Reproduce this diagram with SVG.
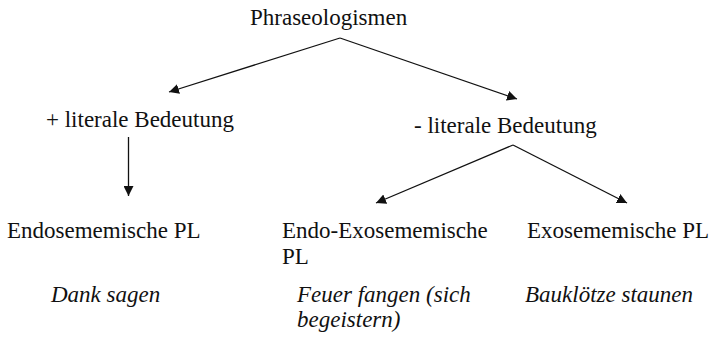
<svg xmlns="http://www.w3.org/2000/svg" width="709" height="355" viewBox="0 0 709 355">
<style>
text{font-family:"Liberation Serif",Tinos,"Noto Serif","DejaVu Serif",Times,serif;font-size:23px;fill:#111}
.it{font-style:italic}
.c{stroke:#111;stroke-width:1.3;fill:none}
</style>
<defs>
<marker id="ah" viewBox="0 0 10 10" refX="10" refY="5" markerWidth="10" markerHeight="10" markerUnits="userSpaceOnUse" orient="auto">
<path d="M0,0 L10,5 L0,10 z" fill="#111"/>
</marker>
</defs>
<rect width="709" height="355" fill="#fff"/>
<g id="connectors">
<line class="c" x1="340" y1="38" x2="169" y2="92" marker-end="url(#ah)"/>
<line class="c" x1="340" y1="38" x2="517" y2="99" marker-end="url(#ah)"/>
<line class="c" x1="128.5" y1="137" x2="128.5" y2="196" marker-end="url(#ah)"/>
<line class="c" x1="513" y1="145" x2="376" y2="203" marker-end="url(#ah)"/>
<line class="c" x1="513" y1="145" x2="627" y2="203" marker-end="url(#ah)"/>
</g>
<g id="root"><text x="250" y="25">Phraseologismen</text></g>
<g id="plus"><text x="46" y="127">+ literale Bedeutung</text></g>
<g id="minus"><text x="414" y="133">- literale Bedeutung</text></g>
<g id="endo"><text x="7" y="238">Endosememische PL</text><text class="it" x="51" y="302">Dank sagen</text></g>
<g id="endoexo"><text x="282" y="238">Endo-Exosememische</text><text x="282" y="264">PL</text><text class="it" x="297" y="302">Feuer fangen (sich</text><text class="it" x="297" y="327">begeistern)</text></g>
<g id="exo"><text x="527" y="238">Exosememische PL</text><text class="it" x="525" y="302">Bauklötze staunen</text></g>
</svg>
